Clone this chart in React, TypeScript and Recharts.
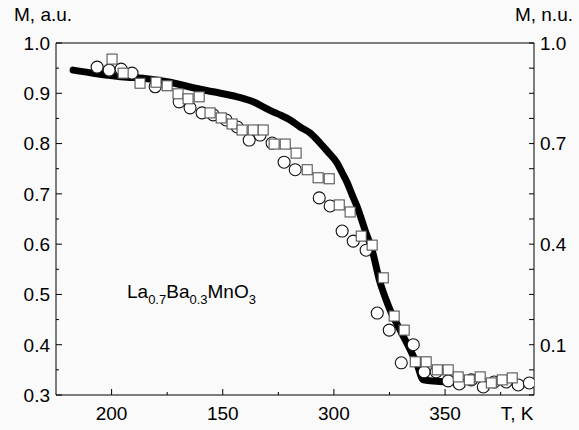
import React from 'react';
import { ComposedChart, Line, Scatter, XAxis, YAxis } from 'recharts';

// Solid (black) curve: temperature, magnetisation (a.u.)
const curveT = [182.7, 191.7, 207, 214.2, 226.3, 236.7, 245.7, 256.5, 263.7, 268.2, 272.7, 275.8, 280.3, 284.8, 289.3, 293.8, 297.4, 301.5, 303.7, 306, 308.2, 310.5, 314, 317.2, 320.8, 323, 325.3, 329.8, 334.3, 337.5, 340.2, 351];
const curveM = [0.946, 0.94, 0.932, 0.93, 0.922, 0.911, 0.903, 0.893, 0.883, 0.873, 0.863, 0.857, 0.847, 0.833, 0.821, 0.801, 0.783, 0.761, 0.742, 0.722, 0.698, 0.674, 0.628, 0.588, 0.523, 0.495, 0.469, 0.429, 0.39, 0.36, 0.33, 0.326];

// Open circles
const circleT = [193.5, 198.9, 204.3, 209.2, 219.6, 230.4, 235.3, 240.7, 245.7, 251.5, 256.5, 261.9, 266.8, 272.2, 277.6, 282.6, 293.4, 298.3, 303.7, 308.7, 314.5, 319.5, 324.9, 335.7, 330.3, 340.6, 346, 351.4, 356.4, 361.8, 367.2, 372.1, 377.5, 382.9, 387.9];
const circleM = [0.952, 0.946, 0.948, 0.94, 0.913, 0.883, 0.871, 0.861, 0.857, 0.847, 0.833, 0.807, 0.817, 0.801, 0.763, 0.748, 0.692, 0.676, 0.626, 0.606, 0.588, 0.463, 0.429, 0.4, 0.364, 0.346, 0.346, 0.328, 0.322, 0.33, 0.316, 0.326, 0.326, 0.32, 0.324];

// Open squares
const squareT = [200.2, 205.2, 212.8, 220, 225, 229.9, 234.4, 239.4, 244.3, 249.3, 254.2, 258.7, 263.7, 268.2, 273.1, 278.1, 283, 288, 292.9, 297.9, 302.4, 307.3, 312.3, 317.2, 322.2, 327.1, 331.6, 336.6, 341.5, 346.5, 351.4, 355.9, 360.9, 365.8, 370.8, 375.7, 380.2];
const squareM = [0.968, 0.94, 0.92, 0.922, 0.915, 0.899, 0.889, 0.893, 0.861, 0.851, 0.839, 0.827, 0.827, 0.827, 0.799, 0.799, 0.781, 0.748, 0.732, 0.73, 0.678, 0.664, 0.616, 0.598, 0.533, 0.457, 0.429, 0.366, 0.366, 0.35, 0.35, 0.336, 0.33, 0.336, 0.324, 0.33, 0.334];

// Axes
const xTicks = [200, 225, 250, 275, 300, 325, 350, 375];
const xMajor = [200, 250, 300, 350];
const xLabels = ['200', '150', '300', '350'];
const yTicks = [0.3, 0.35, 0.4, 0.45, 0.5, 0.55, 0.6, 0.65, 0.7, 0.75, 0.8, 0.85, 0.9, 0.95, 1.0];
const yMajor = [0.3, 0.4, 0.5, 0.6, 0.7, 0.8, 0.9, 1.0];
const yLabels = ['0.3', '0.4', '0.5', '0.6', '0.7', '0.8', '0.9', '1.0'];
const rTicks = [1.0, 0.925, 0.85, 0.775, 0.7, 0.625, 0.55, 0.475, 0.4, 0.325, 0.25, 0.175, 0.1, 0.025, -0.05];
const rMajor = [1.0, 0.7, 0.4, 0.1];
const rLabels = ['1.0', '0.7', '0.4', '0.1'];

const curve = curveT.map((T, i) => ({ T, M: curveM[i] }));
const circles = circleT.map((T, i) => ({ T, M: circleM[i] }));
const squares = squareT.map((T, i) => ({ T, M: squareM[i] }));

const FONT = "'Liberation Sans', Arial, sans-serif";
const FS = 19;
const near = (a: number, b: number) => Math.abs(a - b) < 1e-6;

const LeftTick = (p: any) => {
  const { x, y, payload } = p;
  const i = yMajor.findIndex((m) => near(m, payload.value));
  return (
    <g>
      <line x1={x} y1={y} x2={x + (i >= 0 ? 6 : 3)} y2={y} stroke="#000" strokeWidth={1} />
      {i >= 0 && (
        <text x={x - 6} y={y} dy="0.36em" textAnchor="end" fontFamily={FONT} fontSize={FS} fill="#000">
          {yLabels[i]}
        </text>
      )}
    </g>
  );
};

const RightTick = (p: any) => {
  const { x, y, payload } = p;
  const i = rMajor.findIndex((m) => near(m, payload.value));
  return (
    <g>
      <line x1={x} y1={y} x2={x - 5} y2={y} stroke="#000" strokeWidth={1} />
      {i >= 0 && (
        <text x={x + 6} y={y} dy="0.36em" textAnchor="start" fontFamily={FONT} fontSize={FS} fill="#000">
          {rLabels[i]}
        </text>
      )}
    </g>
  );
};

const BottomTick = (p: any) => {
  const { x, y, payload } = p;
  const i = xMajor.findIndex((m) => near(m, payload.value));
  return (
    <g>
      <line x1={x} y1={y} x2={x} y2={y - (i >= 0 ? 6 : 3)} stroke="#000" strokeWidth={1} />
      {i >= 0 && (
        <text x={x} y={y + 25} textAnchor="middle" fontFamily={FONT} fontSize={FS} fill="#000">
          {xLabels[i]}
        </text>
      )}
    </g>
  );
};

const TopTick = (p: any) => {
  const { x, y } = p;
  return <line x1={x} y1={y} x2={x} y2={y + 5} stroke="#000" strokeWidth={1} />;
};

const CircleShape = (p: any) => (
  <circle cx={p.cx} cy={p.cy} r={6} fill="#fff" stroke="#111" strokeWidth={1.1} />
);
const SquareShape = (p: any) => (
  <rect x={p.cx - 5} y={p.cy - 5} width={10} height={10} fill="#fff" stroke="#555" strokeWidth={1.1} />
);

export default function App() {
  return (
    <div style={{ position: 'absolute', left: 0, top: 0, width: 579, height: 430, background: '#fafafa' }}>
      <ComposedChart
        width={579}
        height={430}
        margin={{ top: 33, right: 5, bottom: 5, left: 6 }}
      >
        <XAxis
          xAxisId={0}
          dataKey="T"
          type="number"
          domain={[175, 390]}
          ticks={xTicks}
          interval={0}
          allowDataOverflow
          height={30}
          tickSize={0}
          tickMargin={0}
          tickLine={false}
          axisLine={{ stroke: '#000', strokeWidth: 1 }}
          tick={<BottomTick />}
        />
        <XAxis
          xAxisId="top"
          orientation="top"
          type="number"
          domain={[175, 390]}
          ticks={xTicks}
          interval={0}
          allowDataOverflow
          height={10}
          tickSize={0}
          tickMargin={0}
          tickLine={false}
          axisLine={{ stroke: '#000', strokeWidth: 1 }}
          tick={<TopTick />}
        />
        <YAxis
          yAxisId={0}
          dataKey="M"
          type="number"
          domain={[0.3, 1.0]}
          ticks={yTicks}
          interval={0}
          allowDataOverflow
          width={50}
          tickSize={0}
          tickMargin={0}
          tickLine={false}
          axisLine={{ stroke: '#000', strokeWidth: 1 }}
          tick={<LeftTick />}
        />
        <YAxis
          yAxisId="right"
          orientation="right"
          type="number"
          domain={[-0.05, 1.0]}
          ticks={rTicks}
          interval={0}
          allowDataOverflow
          width={40}
          tickSize={0}
          tickMargin={0}
          tickLine={false}
          axisLine={{ stroke: '#000', strokeWidth: 1 }}
          tick={<RightTick />}
        />
        <Line
          data={curve}
          dataKey="M"
          type="monotone"
          stroke="#000"
          strokeWidth={7}
          strokeLinejoin="round"
          strokeLinecap="round"
          dot={false}
          activeDot={false}
          isAnimationActive={false}
        />
        <Scatter data={circles} dataKey="M" shape={<CircleShape />} isAnimationActive={false} />
        <Scatter data={squares} dataKey="M" shape={<SquareShape />} isAnimationActive={false} />
      </ComposedChart>
      <svg
        width={579}
        height={430}
        style={{ position: 'absolute', left: 0, top: 0, pointerEvents: 'none' }}
      >
        <text x={14} y={21} fontFamily={FONT} fontSize={FS} fill="#000">M, a.u.</text>
        <text x={573} y={21} textAnchor="end" fontFamily={FONT} fontSize={FS} fill="#000">M, n.u.</text>
        <text x={517} y={420} textAnchor="middle" fontFamily={FONT} fontSize={FS} fill="#000">T, K</text>
        <text x={127} y={298} fontFamily={FONT} fontSize={19} fill="#000">
          La<tspan fontSize={13} dy={6}>0.7</tspan>
          <tspan dy={-6}>Ba</tspan>
          <tspan fontSize={13} dy={6}>0.3</tspan>
          <tspan dy={-6}>MnO</tspan>
          <tspan fontSize={13} dy={6}>3</tspan>
        </text>
      </svg>
    </div>
  );
}
